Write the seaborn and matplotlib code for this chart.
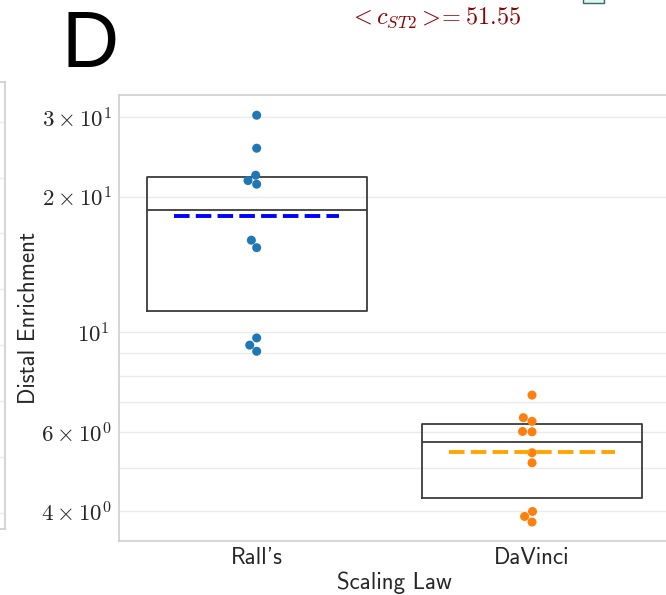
import numpy as np
import pandas as pd
import matplotlib
matplotlib.use("Agg")
import matplotlib.pyplot as plt
from matplotlib.patches import Rectangle
import seaborn as sns

# Distal enrichment per neuron under each scaling law
laws = ["Rall's", "DaVinci"]
ralls_enrichment = [30.3, 25.6, 22.3, 21.7, 21.3, 16.0, 15.4, 9.71, 9.36, 9.07]
davinci_enrichment = [7.25, 6.46, 6.34, 6.02, 6.01, 5.40, 5.13, 4.00, 3.90, 3.79]
point_colors = ["#1f77b4", "#ff7f0e"]
mean_colors = ["blue", "orange"]
mean_cst2 = 51.55

df = pd.DataFrame({
    "law": [laws[0]] * len(ralls_enrichment) + [laws[1]] * len(davinci_enrichment),
    "enrichment": ralls_enrichment + davinci_enrichment,
})

sns.set_theme(style="whitegrid")
plt.rcParams["mathtext.fontset"] = "cm"
plt.rcParams["axes.edgecolor"] = "#d0d0d0"
plt.rcParams["grid.color"] = "#ebebeb"

W, H = 666, 595
fig = plt.figure(figsize=(W / 100, H / 100), dpi=100)

# neighbouring panel (only its right edge falls inside this view)
ax0 = fig.add_axes([-0.2, 1 - 529 / H, 0.2 + 5 / W, 447 / H])
ax0.set_ylim(-0.29, 7.71)
ax0.set_yticks(np.arange(8))
ax0.set_xticks([])
ax0.tick_params(labelleft=False, left=False)

ax = fig.add_axes([119 / W, 1 - 541 / H, (669.7 - 119) / W, (541 - 95) / H])

# boxes: quartiles and median only
sns.boxplot(data=df, x="law", y="enrichment", order=laws, ax=ax,
            whis=0, showcaps=False, showfliers=False, fill=False,
            color="#3c3c3c", linewidth=1.3, width=0.8)

ax.set_yscale("log")

sns.swarmplot(data=df, x="law", y="enrichment", order=laws, hue="law",
              palette=point_colors, size=6.5, legend=False, ax=ax)

# mean of each group as a dashed line
for i, vals in enumerate([ralls_enrichment, davinci_enrichment]):
    ax.hlines(np.mean(vals), i - 0.3, i + 0.3, colors=mean_colors[i],
              linestyles=(0, (4.0, 1.6)), linewidth=2.8, zorder=5)

ax.set_xlim(-0.5, 1.5)
ax.set_ylim(3.44, 33.6)
ax.grid(True, which="both", axis="y")
ax.grid(False, axis="x")
ax.tick_params(axis="y", which="both", labelsize=16.5, left=False, pad=1)
ax.tick_params(axis="x", labelsize=16.5, bottom=False, pad=-1.6)
for lbl in ax.get_xticklabels():
    lbl.set_fontfamily("cmss10")
ax.set_xlabel("Scaling Law", fontsize=16.5, family="cmss10", va="top")
ax.set_ylabel("Distal Enrichment", fontsize=16.5, family="cmss10")
ax.xaxis.set_label_coords(0.5, (541 - 572) / 446)
ax.yaxis.set_label_coords((40 - 119) / 550.7, 0.5)

fig.canvas.draw()
for lbl in ax.get_yticklabels(which="both"):
    lbl.set_fontfamily("cmr10")

fig.text(62 / W, 1 - 67.3 / H, "D", fontsize=57, family="Liberation Sans",
         va="baseline", ha="left", color="black")
fig.text(435.5 / W, 1 - 24.3 / H, r"$<c_{ST2}>\!\!=%.2f$" % mean_cst2,
         fontsize=17.5, color="darkred", ha="center", va="baseline")

fig.add_artist(Rectangle((583 / W, 1 - 3 / H), 21 / W, 0.05,
                         transform=fig.transFigure, facecolor="#dff5ee",
                         edgecolor="#2f6f5f", linewidth=1, clip_on=False))

fig.savefig("out.png", dpi=100)
